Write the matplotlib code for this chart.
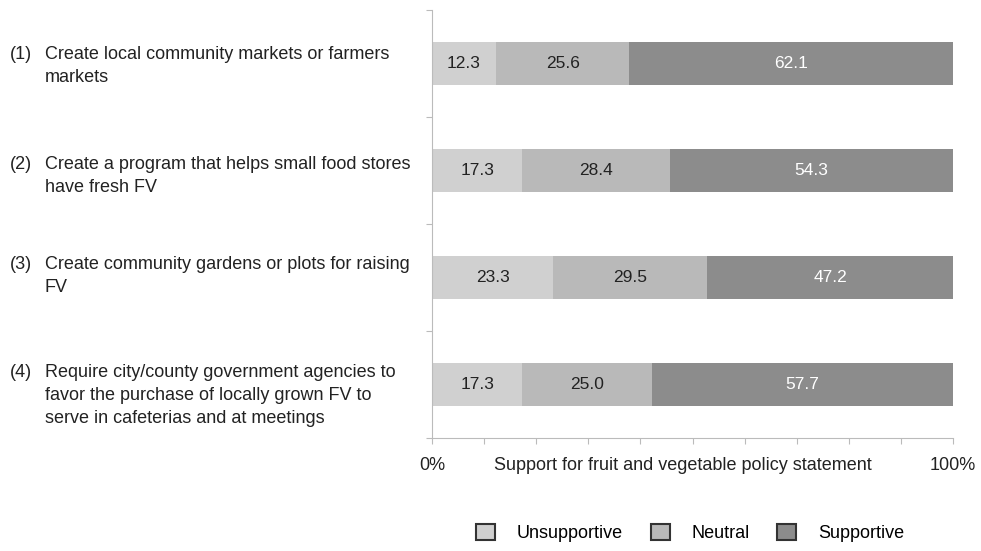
import matplotlib.pyplot as plt
import numpy as np
from matplotlib.patches import Patch
from matplotlib.transforms import blended_transform_factory

plt.rcParams['font.family'] = ['Liberation Sans', 'DejaVu Sans']

items = ['(1)', '(2)', '(3)', '(4)']
statements = [
    ['Create local community markets or farmers', 'markets'],
    ['Create a program that helps small food stores', 'have fresh FV'],
    ['Create community gardens or plots for raising', 'FV'],
    ['Require city/county government agencies to',
     'favor the purchase of locally grown FV to',
     'serve in cafeterias and at meetings'],
]
unsupportive = [12.3, 17.3, 23.3, 17.3]
neutral = [25.6, 28.4, 29.5, 25.0]
supportive = [62.1, 54.3, 47.2, 57.7]

series = [unsupportive, neutral, supportive]
names = ['Unsupportive', 'Neutral', 'Supportive']
colors = ['#d0d0d0', '#b9b9b9', '#8c8c8c']
txtcol = ['#222222', '#222222', 'white']
fs = 13

fig = plt.figure(figsize=(9.81, 5.51), dpi=100)
ax = fig.add_axes([432/981, 1-438/551, 521/981, 428/551])

y = np.arange(len(items))
left = np.zeros(len(items))
for vals, c, tc in zip(series, colors, txtcol):
    vals = np.array(vals)
    ax.barh(y, vals, left=left, height=0.41, color=c, edgecolor='none')
    for yi, l, v in zip(y, left, vals):
        ax.text(l + v/2, yi, f'{v:.1f}', ha='center', va='center', fontsize=12.5, color=tc)
    left += vals

ax.set_xlim(0, 100)
ax.set_ylim(3.5, -0.5)
ax.set_xticks(np.arange(0, 101, 10))
ax.set_xticklabels(['0%'] + ['']*9 + ['100%'], fontsize=fs, color='#222222')
ax.tick_params(axis='x', length=4, color='#bbbbbb', pad=10)
ax.set_yticks(np.arange(-0.5, 4, 1))
ax.set_yticklabels([])
ax.tick_params(axis='y', length=4, color='#bbbbbb')
for s in ['top', 'right']:
    ax.spines[s].set_visible(False)
for s in ['left', 'bottom']:
    ax.spines[s].set_color('#bbbbbb')
    ax.spines[s].set_linewidth(0.8)

# left-hand statement labels, one line at a time
tr = blended_transform_factory(fig.transFigure, ax.transData)
gap = 23 / 107
shift = [0.02, 0.05, -0.01, 0.1]
for yi, num, lines, sh in zip(y, items, statements, shift):
    n = len(lines)
    for i, line in enumerate(lines):
        yy = yi + sh + (i - (n - 1) / 2) * gap
        ax.text(45/981, yy, line, transform=tr, ha='left', va='center', fontsize=fs,
                color='#222222', clip_on=False)
        if i == 0:
            ax.text(10/981, yy, num, transform=tr, ha='left', va='center', fontsize=fs,
                    color='#222222', clip_on=False)

fig.text(683/981, 1-465/551, 'Support for fruit and vegetable policy statement',
         ha='center', va='center', fontsize=fs, color='#222222')

handles = [Patch(facecolor=c, edgecolor='#333333', linewidth=1.5) for c in colors]
fig.legend(handles, names, loc='center', bbox_to_anchor=(690/981, 1-533/551), ncol=3,
           frameon=False, fontsize=fs, handlelength=1.05, handleheight=1.05,
           handletextpad=1.2, columnspacing=1.55)

fig.savefig('out.png', dpi=100)
